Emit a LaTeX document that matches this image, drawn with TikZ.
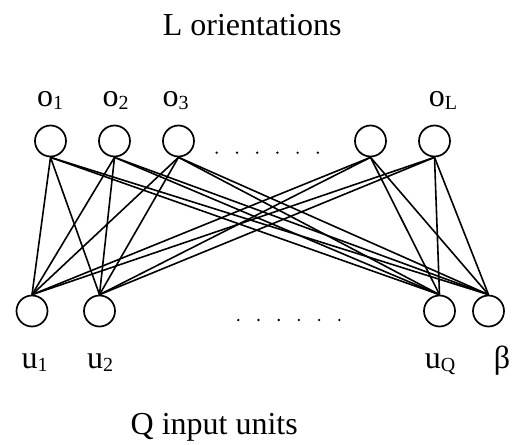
\documentclass[tikz,border=0pt]{standalone}
\usepackage{fontspec}
\setmainfont{Liberation Serif}
\usetikzlibrary{positioning}
\newcommand{\sub}[1]{\raisebox{-3pt}{\fontsize{20}{20}\selectfont #1}}

\begin{document}
\begin{tikzpicture}[x=1pt, y=-1pt,
  unit/.style={circle, draw, line width=1.7pt, minimum size=31pt, inner sep=0pt},
  lbl/.style={anchor=base, inner sep=0pt, font=\fontsize{32}{38}\selectfont},
  conn/.style={line width=1.6pt}
]
\useasboundingbox (0,0) rectangle (513,444);

% Titles
\node[lbl, anchor=base east] (top) at (341.7,35.7) {L orientations};
\node[lbl, anchor=base east] (bot) at (298,434) {Q input units};

% Orientation units
\node[unit] (o1) at (50.5,141) {};
\node[unit] (o2) at (114.5,141) {};
\node[unit] (o3) at (178.5,141) {};
\node[unit] (o4) at (370.5,141) {};
\node[unit] (oL) at (434.5,141) {};

% Input units
\node[unit] (u1) at (32,311) {};
\node[unit] (u2) at (99.5,311) {};
\node[unit] (uQ) at (439.5,311) {};
\node[unit] (ub) at (488.5,311) {};

% Labels
\node[lbl] (lo1) at (50,106) {o\sub{1}};
\node[lbl] (lo2) at (115.5,106) {o\sub{2}};
\node[lbl] (lo3) at (175.5,106) {o\sub{3}};
\node[lbl] (loL) at (443,106) {o\sub{L}};
\node[lbl] (lu1) at (34.7,368) {u\sub{1}};
\node[lbl] (lu2) at (100,368) {u\sub{2}};
\node[lbl] (luQ) at (440,368) {u\sub{Q}};
\node[lbl] (lub) at (502,368) {β};

% Dots
\foreach \x in {216.7,237,257.2,277.4,297.6,317.8}
  \fill (\x,152.7) circle (1.3pt);
\foreach \x in {238.3,258.5,278.7,298.9,319.1,339.3}
  \fill (\x,320) circle (1.3pt);

% Connections
\foreach \t in {o1,o2,o3,o4,oL}
  \foreach \b in {u1,u2,uQ,ub}
    \draw[conn] (\t.south) -- (\b.north);
\end{tikzpicture}
\end{document}
